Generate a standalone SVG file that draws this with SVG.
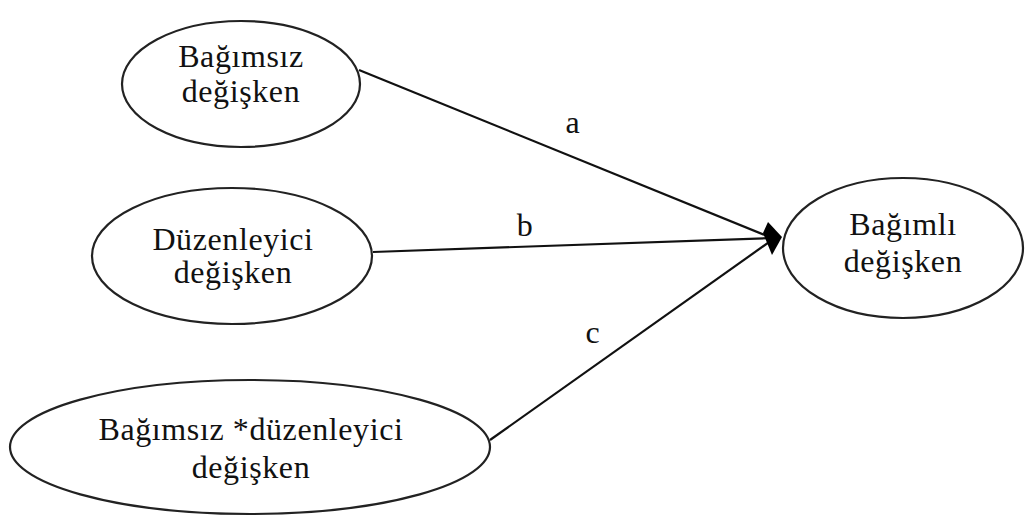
<svg xmlns="http://www.w3.org/2000/svg" width="1030" height="517" viewBox="0 0 1030 517">
<style>
.n{fill:#fff;stroke:#222;stroke-width:2.2}
.t{font-family:"Liberation Serif","Times New Roman",serif;font-size:32px;fill:#111;text-anchor:middle;letter-spacing:0.6px}
.c{stroke:#111;stroke-width:2.2;fill:none}
</style>
<rect width="1030" height="517" fill="#fff"/>
<g id="connectors">
<line class="c" x1="359" y1="70" x2="772" y2="238"/>
<line class="c" x1="373" y1="252" x2="772" y2="238"/>
<line class="c" x1="490" y1="440" x2="772" y2="240"/>
<polygon points="768,222 782,237 772,255 763,233" fill="#000"/>
<text class="t" x="573" y="133">a</text>
<text class="t" x="525" y="236">b</text>
<text class="t" x="593" y="343">c</text>
</g>
<g id="bagimsiz">
<ellipse class="n" cx="241" cy="84" rx="119" ry="63"/>
<text class="t" x="241" y="67">Bağımsız</text>
<text class="t" x="241" y="102">değişken</text>
</g>
<g id="duzenleyici">
<ellipse class="n" cx="232" cy="256" rx="140" ry="68"/>
<text class="t" x="233" y="250">Düzenleyici</text>
<text class="t" x="233" y="283">değişken</text>
</g>
<g id="etkilesim">
<ellipse class="n" cx="250" cy="447" rx="240" ry="67"/>
<text class="t" x="251" y="440">Bağımsız *düzenleyici</text>
<text class="t" x="251" y="478">değişken</text>
</g>
<g id="bagimli">
<ellipse class="n" cx="903" cy="248" rx="120" ry="70"/>
<text class="t" x="903" y="235">Bağımlı</text>
<text class="t" x="903" y="272">değişken</text>
</g>
</svg>
